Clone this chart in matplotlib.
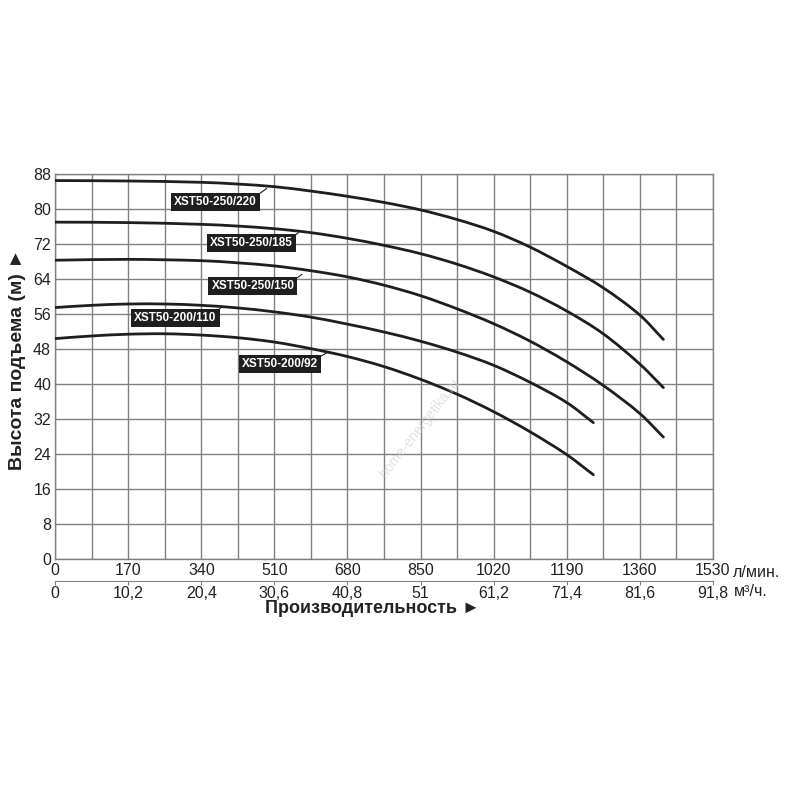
import matplotlib
matplotlib.use("Agg")
import matplotlib.pyplot as plt
from matplotlib.path import Path
from matplotlib.patches import PathPatch
import numpy as np

plt.rcParams['font.family'] = ['Liberation Sans', 'DejaVu Sans']

# flow (l/min) and head (m)
flow_long = [0, 170, 340, 425, 510, 595, 680, 765, 850, 935, 1020, 1105, 1190, 1275, 1360, 1415]
head_220 = [86.5, 86.4, 86.1, 85.7, 85.1, 84.1, 82.9, 81.5, 79.8, 77.6, 74.9, 71.3, 66.9, 62.0, 55.8, 50.2]
head_185 = [77.0, 76.9, 76.5, 76.1, 75.5, 74.6, 73.3, 71.7, 69.8, 67.4, 64.5, 61.0, 56.7, 51.5, 44.6, 39.2]
head_150 = [68.3, 68.5, 68.2, 67.7, 67.0, 65.9, 64.5, 62.6, 60.2, 57.2, 53.8, 49.8, 45.1, 39.7, 33.3, 27.9]

flow_short = [0, 85, 170, 255, 340, 425, 510, 595, 680, 765, 850, 935, 1020, 1105, 1190, 1252]
head_110 = [57.5, 58.0, 58.3, 58.3, 58.0, 57.4, 56.5, 55.3, 53.7, 51.9, 49.8, 47.3, 44.3, 40.4, 35.8, 31.2]
head_92 = [50.4, 51.0, 51.4, 51.5, 51.2, 50.6, 49.6, 48.1, 46.3, 44.0, 41.1, 37.7, 33.7, 29.1, 23.9, 19.3]

model_names = ["XST50-250/220", "XST50-250/185", "XST50-250/150", "XST50-200/110", "XST50-200/92"]
# label box centre and leader end point (flow, head)
label_pos = [(373, 81.7), (456, 72.2), (460, 62.4), (280, 55.2), (523, 44.6)]
leader_end = [(492, 84.7), (566, 74.6), (574, 65.1), (388, 57.7), (636, 47.4)]

lpm_ticks = [0, 170, 340, 510, 680, 850, 1020, 1190, 1360, 1530]
m3h_labels = ["0", "10,2", "20,4", "30,6", "40,8", "51", "61,2", "71,4", "81,6", "91,8"]
head_ticks = list(range(0, 89, 8))

grid_col = "#808080"
ink = "#1e1e1e"


def smooth_path(xs, ys):
    # hermite curve through the read points (slopes from neighbours), as bezier segments
    x = np.asarray(xs, float)
    y = np.asarray(ys, float)
    n = len(x)
    m = np.empty(n)
    m[0] = (y[1] - y[0]) / (x[1] - x[0])
    m[-1] = (y[-1] - y[-2]) / (x[-1] - x[-2])
    for i in range(1, n - 1):
        m[i] = (y[i + 1] - y[i - 1]) / (x[i + 1] - x[i - 1])
    verts = [(x[0], y[0])]
    codes = [Path.MOVETO]
    for i in range(n - 1):
        h = (x[i + 1] - x[i]) / 3.0
        verts += [(x[i] + h, y[i] + m[i] * h),
                  (x[i + 1] - h, y[i + 1] - m[i + 1] * h),
                  (x[i + 1], y[i + 1])]
        codes += [Path.CURVE4] * 3
    return Path(verts, codes)


fig = plt.figure(figsize=(8, 8), dpi=100)
ax = fig.add_axes([0.069, 0.301, 0.822, 0.4815])

curves = [(flow_long, head_220), (flow_long, head_185), (flow_long, head_150),
          (flow_short, head_110), (flow_short, head_92)]
for q, h in curves:
    ax.add_patch(PathPatch(smooth_path(q, h), fc="none", ec=ink, lw=2.0,
                           capstyle="round", zorder=3))

for name, lp, le in zip(model_names, label_pos, leader_end):
    ax.annotate(name, xy=le, xytext=lp, color="white", fontsize=8.5, fontweight="bold",
                ha="center", va="center", zorder=4,
                bbox=dict(boxstyle="square,pad=0.25", fc=ink, ec="none"),
                arrowprops=dict(arrowstyle="-", color=ink, lw=0.8, shrinkA=0, shrinkB=0,
                                relpos=(1, 1)))

ax.set_xlim(0, 1530)
ax.set_ylim(0, 88)
ax.set_xticks(lpm_ticks)
ax.set_xticks(np.arange(0, 1531, 85), minor=True)
ax.set_yticks(head_ticks)
ax.grid(True, which="both", color=grid_col, lw=1.0)
ax.set_axisbelow(True)
for s in ax.spines.values():
    s.set_color(grid_col)
    s.set_linewidth(1.0)
ax.tick_params(axis="both", which="both", length=0, labelsize=11.5, colors="#222222")
ax.tick_params(axis="x", pad=3)
ax.tick_params(axis="y", pad=3)
ax.set_xticklabels([str(t) for t in lpm_ticks])

sec = ax.secondary_xaxis(-0.056, functions=(lambda q: q * 0.06, lambda q: q / 0.06))
sec.set_xticks([t * 0.06 for t in lpm_ticks])
sec.set_xticklabels(m3h_labels)
sec.spines["bottom"].set_color(grid_col)
sec.tick_params(length=3, color=grid_col, labelsize=11.5, pad=1, labelcolor="#222222")

fig.text(0.916, 0.2845, "л/мин.", fontsize=11.5, ha="left", va="center", color="#222222")
fig.text(0.917, 0.261, "м³/ч.", fontsize=11.5, ha="left", va="center", color="#222222")

fig.text(0.466, 0.239, "Производительность ►", fontsize=13, fontweight="bold",
         ha="center", va="center", color="#222222")
fig.text(0.0225, 0.551, "Высота подъема (м) ►", fontsize=14, fontweight="bold",
         ha="center", va="center", rotation=90, color="#222222")

fig.text(0.525, 0.465, "home-energetika.ru", fontsize=10, color="#cccccc", alpha=0.6,
         rotation=52, ha="center", va="center")

fig.savefig("out.png", dpi=100)
